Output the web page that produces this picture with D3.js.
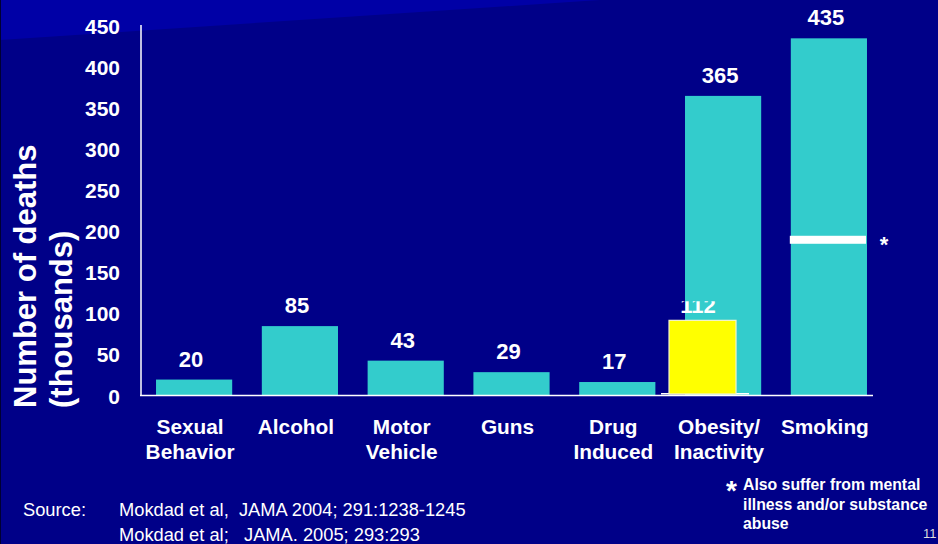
<!DOCTYPE html>
<html><head><meta charset="utf-8">
<script src="https://cdn.jsdelivr.net/npm/d3@7/dist/d3.min.js"></script>
<style>html,body{margin:0;padding:0;background:#000088;}svg{display:block;}</style>
</head><body>
<svg id="c" width="938" height="544"></svg>
<script>
const categories = ["Sexual Behavior","Alcohol","Motor Vehicle","Guns","Drug Induced","Obesity/ Inactivity","Smoking"];
const labelLines = [["Sexual","Behavior"],["Alcohol"],["Motor","Vehicle"],["Guns"],["Drug","Induced"],["Obesity/","Inactivity"],["Smoking"]];
const deaths = [20,85,43,29,17,365,435];
const yTicks = [0,50,100,150,200,250,300,350,400,450];
const highlight = {category:"Obesity/ Inactivity", label:112, drawnValue:92};
const mentalIllnessMark = {category:"Smoking", value:190};
const sourceLines = ["Mokdad et al,  JAMA 2004; 291:1238-1245","Mokdad et al;   JAMA. 2005; 293:293"];
const footnoteLines = ["Also suffer from mental","illness and/or substance","abuse"];

const svg = d3.select("#c");
const W = 938, H = 544;
const FONT = "'Liberation Sans', Arial, sans-serif";

// background
svg.append("rect").attr("width",W).attr("height",H).attr("fill","#000088");
svg.append("path").attr("d","M0,0 L600,0 Q300,20 0,40 Z").attr("fill","#0000A6");
svg.append("rect").attr("x",0).attr("y",0).attr("width",1).attr("height",H).attr("fill","#000033");

const x = d3.scaleBand().domain(categories).range([141,882]).paddingInner(0.28).paddingOuter(0.142);
const y = d3.scaleLinear().domain([0,450]).range([396,26]);
const bw = x.bandwidth();
const rows = categories.map((c,i)=>({cat:c, value:deaths[i], lines:labelLines[i]}));

// y axis tick labels
svg.append("g").selectAll("text").data(yTicks).join("text")
  .attr("x",120).attr("y",d=>y(d)+7.5).attr("text-anchor","end")
  .attr("font-family",FONT).attr("font-weight","bold").attr("font-size",21).attr("fill","#fff")
  .text(d=>d);

// bars
svg.append("g").selectAll("rect").data(rows).join("rect")
  .attr("x",d=>x(d.cat)).attr("y",d=>y(d.value))
  .attr("width",bw).attr("height",d=>y(0)-y(d.value)).attr("fill","#33CCCC");

// value labels
svg.append("g").selectAll("text").data(rows).join("text")
  .attr("x",d=>x(d.cat)+bw/2-3).attr("y",d=>y(d.value)-13)
  .attr("text-anchor","middle")
  .attr("font-family",FONT).attr("font-weight","bold").attr("font-size",22).attr("fill","#fff")
  .text(d=>d.value);

// highlight yellow box
const hx = x(highlight.category);
svg.append("rect").attr("x",hx-24).attr("y",y(0)-3).attr("width",88).attr("height",1.5).attr("fill","#fff");
svg.append("rect").attr("x",hx-16).attr("y",y(highlight.drawnValue))
  .attr("width",67).attr("height",y(0)-2-y(highlight.drawnValue))
  .attr("fill","#FFFF00").attr("stroke","#f4f4d0").attr("stroke-width",1.2);
svg.append("clipPath").attr("id","hclip").append("rect").attr("x",0).attr("y",y(highlight.drawnValue)-19).attr("width",W).attr("height",40);
svg.append("text").attr("clip-path","url(#hclip)")
  .attr("x",hx+13).attr("y",y(highlight.drawnValue)-7).attr("text-anchor","middle")
  .attr("font-family",FONT).attr("font-weight","bold").attr("font-size",22).attr("fill","#fff")
  .text(highlight.label);

// smoking white marker
const sx = x(mentalIllnessMark.category);
svg.append("rect").attr("x",sx-1).attr("y",y(mentalIllnessMark.value)-4).attr("width",bw).attr("height",8).attr("fill","#fff");
svg.append("text").attr("x",sx+bw+17).attr("y",y(mentalIllnessMark.value)+12).attr("text-anchor","middle")
  .attr("font-family",FONT).attr("font-weight","bold").attr("font-size",22).attr("fill","#fff").text("*");

// axes lines
svg.append("line").attr("x1",141).attr("x2",141).attr("y1",y(450)-1).attr("y2",y(0)).attr("stroke","#fff").attr("stroke-width",1.5);
svg.append("line").attr("x1",140).attr("x2",873).attr("y1",y(0)-0.5).attr("y2",y(0)-0.5).attr("stroke","#fff").attr("stroke-width",1.5);

// category labels
const cg = svg.append("g");
rows.forEach(r=>{
  r.lines.forEach((ln,j)=>{
    cg.append("text").attr("x",x(r.cat)+bw/2-4).attr("y",434+j*25)
      .attr("text-anchor","middle")
      .attr("font-family",FONT).attr("font-weight","bold").attr("font-size",20.8).attr("fill","#fff")
      .text(ln);
  });
});

// y title
svg.append("text").attr("transform","translate(36,408) rotate(-90)")
  .attr("font-family",FONT).attr("font-weight","bold").attr("font-size",31).attr("fill","#fff")
  .text("Number of deaths");
svg.append("text").attr("transform","translate(72,408) rotate(-90)")
  .attr("font-family",FONT).attr("font-weight","bold").attr("font-size",31).attr("fill","#fff")
  .text("(thousands)");

// source
svg.append("text").attr("x",23).attr("y",516)
  .attr("font-family",FONT).attr("font-size",18.3).attr("fill","#fff").text("Source:");
sourceLines.forEach((s,i)=>{
  svg.append("text").attr("x",119).attr("y",516+24.5*i)
    .attr("font-family",FONT).attr("font-size",18.3).attr("fill","#fff")
    .style("white-space","pre").text(s);
});

// footnote
svg.append("text").attr("x",726).attr("y",500)
  .attr("font-family",FONT).attr("font-weight","bold").attr("font-size",28).attr("fill","#fff").text("*");
footnoteLines.forEach((s,i)=>{
  svg.append("text").attr("x",743).attr("y",490+19.5*i)
    .attr("font-family",FONT).attr("font-weight","bold").attr("font-size",15.8).attr("fill","#fff").text(s);
});
svg.append("text").attr("x",923).attr("y",538)
  .attr("font-family",FONT).attr("font-size",13).attr("fill","#dddddd").text("11");
</script>
</body></html>
